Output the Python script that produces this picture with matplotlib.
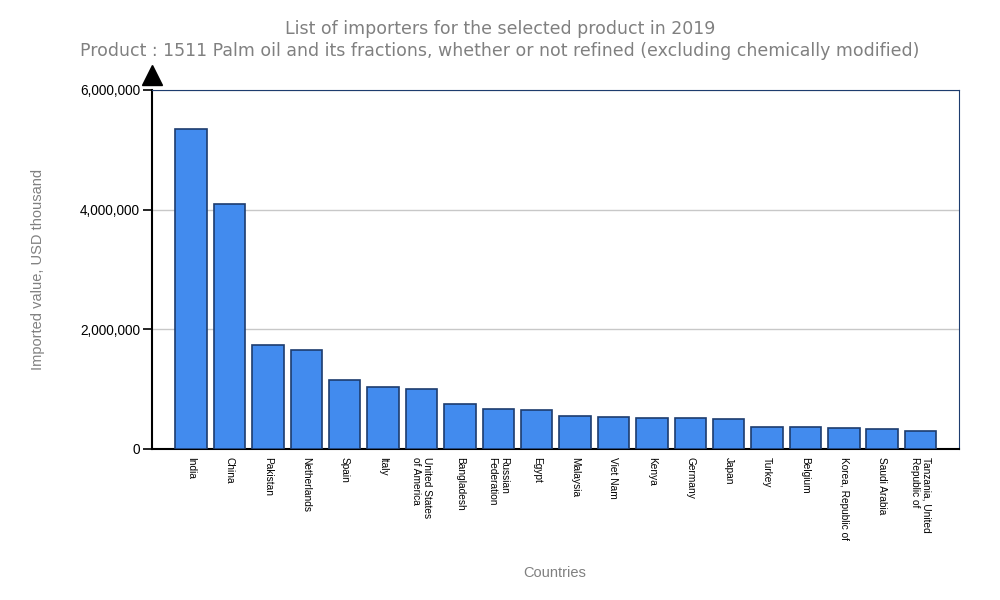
import numpy as np
import matplotlib
matplotlib.use("Agg")
import matplotlib.pyplot as plt
from matplotlib.ticker import FuncFormatter

# data (USD thousand)
countries = ["India", "China", "Pakistan", "Netherlands", "Spain", "Italy",
             "United States\nof America", "Bangladesh", "Russian\nFederation",
             "Egypt", "Malaysia", "Viet Nam", "Kenya", "Germany", "Japan",
             "Turkey", "Belgium", "Korea, Republic of", "Saudi Arabia",
             "Tanzania, United\nRepublic of"]
values = [5350000, 4100000, 1745000, 1660000, 1160000, 1030000, 1010000,
          760000, 660000, 645000, 545000, 528000, 512000, 512000, 495000,
          362000, 362000, 345000, 330000, 295000]
yticks = [0, 2000000, 4000000, 6000000]

title = ("List of importers for the selected product in 2019\n"
         "Product : 1511 Palm oil and its fractions, whether or not refined "
         "(excluding chemically modified)")

gray = "#808080"
navy = "#1d3c6e"

fig = plt.figure(figsize=(10, 6), dpi=100)
ax = fig.add_axes([0.152, 0.2517, 0.807, 0.5983])

x = np.arange(len(countries))
ax.bar(x, values, width=0.82, color="#428bee", edgecolor=navy, linewidth=1.2, zorder=3)

ax.set_xlim(-1.02, 20.0)
ax.set_ylim(0, 6000000)
ax.set_yticks(yticks)
ax.yaxis.set_major_formatter(FuncFormatter(lambda v, p: f"{int(v):,}"))
ax.yaxis.grid(True, color="#c8c8c8", linewidth=1, zorder=0)
ax.tick_params(axis="y", length=6.5, width=1.2, labelsize=9.8, pad=2)
for lbl in ax.get_yticklabels():
    lbl.set_fontfamily("Liberation Sans")

ax.set_xticks(x)
ax.set_xticklabels(countries, rotation=270, fontsize=7.3, family="Liberation Sans",
                   va="top", ha="center", multialignment="left")
ax.tick_params(axis="x", length=0, pad=6)

ax.spines["left"].set_color("black")
ax.spines["left"].set_linewidth(1.5)
ax.spines["bottom"].set_color("black")
ax.spines["bottom"].set_linewidth(1.5)
ax.spines["top"].set_color(navy)
ax.spines["right"].set_color(navy)

# arrow head on top of the y axis
ax.plot([0], [1.043], marker="^", markersize=14.5, color="black",
        transform=ax.transAxes, clip_on=False)

fig.text(0.5, 0.967, title, ha="center", va="top", fontsize=12.5, color=gray,
         linespacing=1.3, family="DejaVu Sans")
ax.set_ylabel("Imported value, USD thousand", fontsize=10.5, color=gray,
              family="Liberation Sans", labelpad=25)
fig.text(0.555, 0.045, "Countries", ha="center", va="center", fontsize=10.5,
         color=gray, family="Liberation Sans")

fig.savefig("out.png", dpi=100)
